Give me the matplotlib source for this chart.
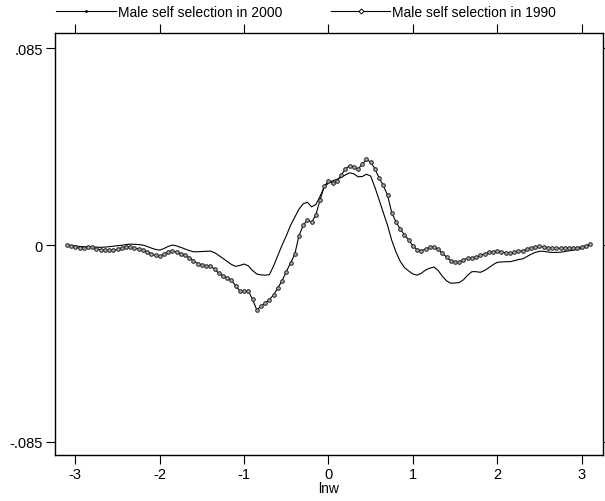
import numpy as np
import matplotlib
matplotlib.use("Agg")
import matplotlib.pyplot as plt
from matplotlib.lines import Line2D

plt.rcParams['font.family'] = ['Liberation Sans', 'DejaVu Sans']
plt.rcParams['axes.unicode_minus'] = False

# evaluation grid of lnw
lnw = np.round(np.arange(-3.10, 3.101, 0.05), 2)

sel_2000 = [
    0.0000, -0.0002, -0.0004, -0.0006, -0.0007, -0.0008, -0.0008, -0.0009,
    -0.0010, -0.0009, -0.0007, -0.0005, -0.0003, -0.0001, 0.0002, 0.0004,
    0.0003, 0.0002, 0.0000, -0.0006, -0.0013, -0.0019, -0.0022, -0.0015,
    -0.0006, 0.0000, -0.0004, -0.0010, -0.0017, -0.0024, -0.0029, -0.0029,
    -0.0028, -0.0027, -0.0026, -0.0033, -0.0045, -0.0058, -0.0071, -0.0084,
    -0.0092, -0.0088, -0.0082, -0.0090, -0.0110, -0.0125, -0.0129, -0.0130,
    -0.0128, -0.0090, -0.0045, 0.0000, 0.0040, 0.0085, 0.0120, 0.0155,
    0.0178, 0.0185, 0.0165, 0.0175, 0.0210, 0.0250, 0.0268, 0.0278,
    0.0284, 0.0292, 0.0303, 0.0312, 0.0308, 0.0295, 0.0296, 0.0306,
    0.0298, 0.0250, 0.0195, 0.0140, 0.0085, 0.0020, -0.0030, -0.0070,
    -0.0097, -0.0112, -0.0125, -0.0130, -0.0122, -0.0108, -0.0100, -0.0095,
    -0.0110, -0.0135, -0.0155, -0.0165, -0.0164, -0.0162, -0.0150, -0.0130,
    -0.0115, -0.0115, -0.0118, -0.0110, -0.0098, -0.0085, -0.0075, -0.0073,
    -0.0072, -0.0072, -0.0068, -0.0063, -0.0060, -0.0050, -0.0040, -0.0032,
    -0.0027, -0.0027, -0.0030, -0.0032, -0.0032, -0.0031, -0.0028, -0.0025,
    -0.0022, -0.0019, -0.0015, -0.0008, 0.0000,
]

sel_1990 = [
    0.0000, -0.0005, -0.0010, -0.0014, -0.0012, -0.0008, -0.0010, -0.0016,
    -0.0021, -0.0022, -0.0023, -0.0022, -0.0019, -0.0012, -0.0007, -0.0009,
    -0.0013, -0.0017, -0.0022, -0.0030, -0.0038, -0.0045, -0.0049, -0.0040,
    -0.0030, -0.0025, -0.0030, -0.0038, -0.0045, -0.0055, -0.0068, -0.0080,
    -0.0087, -0.0089, -0.0089, -0.0105, -0.0122, -0.0133, -0.0143, -0.0153,
    -0.0175, -0.0199, -0.0200, -0.0198, -0.0235, -0.0280, -0.0265, -0.0251,
    -0.0236, -0.0215, -0.0185, -0.0154, -0.0115, -0.0078, -0.0040, 0.0040,
    0.0085, 0.0108, 0.0098, 0.0130, 0.0195, 0.0255, 0.0275, 0.0268,
    0.0275, 0.0302, 0.0328, 0.0343, 0.0338, 0.0328, 0.0350, 0.0370,
    0.0358, 0.0330, 0.0290, 0.0258, 0.0215, 0.0140, 0.0100, 0.0069,
    0.0045, 0.0022, -0.0003, -0.0020, -0.0024, -0.0018, -0.0010, -0.0007,
    -0.0018, -0.0036, -0.0052, -0.0068, -0.0074, -0.0073, -0.0064, -0.0057,
    -0.0054, -0.0053, -0.0045, -0.0038, -0.0032, -0.0028, -0.0025, -0.0029,
    -0.0034, -0.0035, -0.0031, -0.0027, -0.0025, -0.0018, -0.0012, -0.0008,
    -0.0006, -0.0008, -0.0012, -0.0014, -0.0014, -0.0014, -0.0014, -0.0013,
    -0.0012, -0.0011, -0.0008, -0.0003, 0.0004,
]

x_ticks = [-3, -2, -1, 0, 1, 2, 3]
y_ticks = [-0.085, 0, 0.085]
y_labels = ['-.085', '0', '.085']

fig = plt.figure(figsize=(6.05, 5.02), dpi=100)
ax = fig.add_axes([0.0904, 0.0922, 0.9058, 0.8395])

ax.plot(lnw, sel_2000, color='black', lw=0.8)
ax.plot(lnw, sel_1990, color='black', lw=0.8, marker='o', ms=2.6,
        mfc='#aaaaaa', mec='#222222', mew=0.7)

ax.set_xlim(-3.245, 3.25)
ax.set_ylim(-0.0906, 0.0915)
ax.set_xticks(x_ticks)
ax.set_yticks(y_ticks)
ax.set_yticklabels(y_labels)

ax.tick_params(axis='both', direction='out', length=6.5, width=0.8,
               labelsize=10.5, pad=2)
ax.tick_params(axis='y', right=True, labelright=False)
ax.tick_params(axis='x', top=True, labeltop=False)
for s in ax.spines.values():
    s.set_linewidth(1.0)

ax.set_xlabel('lnw', fontsize=10, labelpad=0)

handles = [
    Line2D([], [], color='black', lw=0.8, marker='.', ms=2),
    Line2D([], [], color='black', lw=0.8, marker='D', ms=2.5,
           mfc='white', mec='black', mew=0.7),
]
fig.legend(handles, ['Male self selection in 2000', 'Male self selection in 1990'],
           loc='center', bbox_to_anchor=(0.506, 0.974), ncol=2, frameon=False,
           fontsize=10, handlelength=4.3, handletextpad=0.15,
           columnspacing=3.5, borderpad=0)

fig.savefig('out.png', dpi=100)
